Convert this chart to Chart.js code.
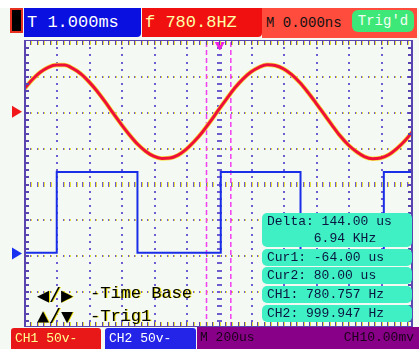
<!DOCTYPE html>
<html>
<head>
<meta charset="utf-8">
<script src="https://cdn.jsdelivr.net/npm/chart.js@4.4.1/dist/chart.umd.min.js"></script>
<style>
  body { margin: 0; background: #f5f9f4; }
  #wrap { position: relative; width: 419px; height: 349px; overflow: hidden; font-family: "Liberation Mono", "DejaVu Sans Mono", monospace; }
  #wrap canvas { position: absolute; left: 0; top: 0; }
  .box { position: absolute; box-sizing: border-box; white-space: pre; }
  .info { left: 262px; width: 150px; background: #3ef0c4; border-radius: 5px; color: #0a1640; font-size: 13px; line-height: 17px; padding-left: 5px; }
  .hint { color: #000; font-size: 17px; text-shadow: 1px 0 0 #e8e000; }
</style>
</head>
<body>
<div id="wrap">
  <canvas id="scope" width="419" height="349"></canvas>

  <!-- header -->
  <div class="box" style="left:0;top:0;width:419px;height:8px;background:#fff"></div>
  <div class="box" style="left:10px;top:8px;width:13px;height:25px;background:#000;border:2px solid #e83020"></div>
  <div class="box" style="left:24px;top:8px;width:117px;height:29px;background:#0a10e0;color:#fff;font-size:17px;line-height:29px;padding-left:3px;border-radius:0 0 4px 0">T 1.000ms</div>
  <div class="box" style="left:142px;top:8px;width:120px;height:29px;background:#f01010;color:#ffffa8;font-size:17px;line-height:29px;padding-left:3px;border-radius:0 0 4px 0">f 780.8HZ</div>
  <div class="box" style="left:262px;top:8px;width:155px;height:30px;background:#ff4c3c;color:#111;font-size:14px;line-height:30px;padding-left:4px">M 0.000ns</div>
  <div class="box" style="left:352px;top:10px;width:62px;height:22px;background:#3ee878;color:#f4fff4;font-size:14px;line-height:22px;text-align:center;border-radius:6px">Trig'd</div>

  <!-- cursor readout -->
  <div class="box info" style="top:213px;height:34px">Delta: 144.00 us
      6.94 KHz</div>
  <div class="box info" style="top:249px;height:17px">Cur1: -64.00 us</div>
  <div class="box info" style="top:267px;height:17px">Cur2: 80.00 us</div>
  <div class="box info" style="top:286px;height:17px">CH1: 780.757 Hz</div>
  <div class="box info" style="top:305px;height:17px">CH2: 999.947 Hz</div>

  <!-- key hints -->
  <div class="box hint" style="left:37px;top:283px;font-size:20px">◀/▶</div>
  <div class="box hint" style="left:90px;top:284px">-Time Base</div>
  <div class="box hint" style="left:37px;top:306px;font-size:20px">▲/▼</div>
  <div class="box hint" style="left:90px;top:307px">-Trig1</div>

  <!-- footer -->
  <div class="box" style="left:11px;top:328px;width:90px;height:21px;background:#e81818;color:#ffff90;font-size:13px;line-height:21px;padding-left:4px;border-radius:3px 3px 0 0">CH1 50v-</div>
  <div class="box" style="left:105px;top:328px;width:91px;height:21px;background:#2424e8;color:#fff;font-size:13px;line-height:21px;padding-left:4px;border-radius:3px 3px 0 0">CH2 50v-</div>
  <div class="box" style="left:197px;top:327px;width:222px;height:22px;background:#880088;color:#1a001a;font-size:13px;line-height:22px;padding-left:3px">M 200us</div>
  <div class="box" style="left:330px;top:327px;width:84px;height:22px;color:#1a001a;font-size:13px;line-height:22px;text-align:right">CH10.00mv</div>
</div>

<script>
// time axis in screen divisions (12 across), volts in divisions (8 high)
const sampleDiv = [0, 0.25, 0.5, 0.75, 1, 1.25, 1.5, 1.75, 2, 2.25, 2.5, 2.75, 3, 3.25, 3.5, 3.75,
  4, 4.25, 4.5, 4.75, 5, 5.25, 5.5, 5.75, 6, 6.25, 6.5, 6.75, 7, 7.25, 7.5, 7.75,
  8, 8.25, 8.5, 8.75, 9, 9.25, 9.5, 9.75, 10, 10.25, 10.5, 10.75, 11, 11.25, 11.5, 11.75, 12];
const ch1Values = [6.63, 6.89, 7.10, 7.24, 7.30, 7.30, 7.21, 7.06, 6.84, 6.58, 6.28, 5.96, 5.65, 5.36, 5.10, 4.90,
  4.76, 4.70, 4.71, 4.79, 4.95, 5.17, 5.43, 5.73, 6.05, 6.36, 6.66, 6.91, 7.11, 7.24, 7.31, 7.29,
  7.20, 7.04, 6.82, 6.55, 6.25, 5.94, 5.63, 5.33, 5.08, 4.89, 4.75, 4.69, 4.71, 4.80, 4.97, 5.19, 5.46];

const ch2Times = [0, 1.01, 1.01, 3.5, 3.5, 6.07, 6.07, 8.53, 8.53, 11.1, 11.1, 12];
const ch2Values = [2.07, 2.07, 4.32, 4.32, 2.07, 2.07, 4.32, 4.32, 2.07, 2.07, 4.32, 4.32];

const cursorTimes = [5.63, 6.38];
const triggerTime = 6.04;
const groundLevels = [6.0, 2.05]; // CH1, CH2
const groundColors = ['#f01818', '#1830f0'];

const bgColor = '#f5f9f4';
const gridPurple = '#6e5cd0';
const gridYellow = '#e6dc3c';

const scopeGrid = {
  id: 'scopeGrid',
  beforeDatasetsDraw(chart) {
    const { ctx, chartArea: { left, right, top, bottom }, scales: { x, y } } = chart;
    ctx.save();
    ctx.fillStyle = bgColor;
    ctx.fillRect(left, top, right - left, bottom - top);

    // dotted verticals, centre one drawn as short dashes
    for (let d = 1; d < 12; d++) {
      const px = Math.round(x.getPixelForValue(d));
      for (let m = 1; m < 40; m++) {
        const py = Math.round(y.getPixelForValue(m / 5));
        ctx.fillStyle = gridPurple;
        if (d === 6) ctx.fillRect(px - 2, py, 5, 2);
        else ctx.fillRect(px, py, 2, 2);
      }
    }
    // dotted horizontals, centre one drawn as short dashes
    for (let v = 1; v < 8; v++) {
      const py = Math.round(y.getPixelForValue(v));
      const h = v === 4 ? 5 : 2;
      const off = v === 4 ? 2 : 0;
      for (let m = 1; m < 60; m++) {
        const px = Math.round(x.getPixelForValue(m / 5));
        ctx.fillStyle = gridPurple;
        ctx.fillRect(px, py - off, 1, h);
        ctx.fillStyle = gridYellow;
        ctx.fillRect(px + 1, py - off, 1, h);
      }
    }
    ctx.restore();
  },
  afterDatasetsDraw(chart) {
    const { ctx, chartArea: { left, right, top, bottom }, scales: { x, y } } = chart;
    ctx.save();
    ctx.fillStyle = '#5a44b0';
    ctx.fillRect(left, top, 2, bottom - top);
    ctx.fillRect(right - 2, top, 2, bottom - top);
    ctx.fillRect(left, top, right - left, 1);
    ctx.fillRect(left, bottom - 1, right - left, 1);
    for (let m = 1; m < 60; m++) {
      const px = Math.round(x.getPixelForValue(m / 5));
      ctx.fillStyle = '#5a44b0';
      ctx.fillRect(px, top, 1, 5);
      ctx.fillRect(px, bottom - 5, 1, 5);
      ctx.fillStyle = gridYellow;
      ctx.fillRect(px + 1, top + 1, 1, 4);
      ctx.fillRect(px + 1, bottom - 5, 1, 4);
    }
    for (let m = 1; m < 40; m++) {
      const py = Math.round(y.getPixelForValue(m / 5));
      ctx.fillStyle = '#5a44b0';
      ctx.fillRect(left, py, 5, 2);
      ctx.fillRect(right - 5, py, 5, 2);
    }

    // channel ground markers left of the screen
    groundLevels.forEach((lvl, i) => {
      const py = y.getPixelForValue(lvl);
      ctx.fillStyle = groundColors[i];
      ctx.beginPath();
      ctx.moveTo(left - 12, py - 6);
      ctx.lineTo(left - 2, py);
      ctx.lineTo(left - 12, py + 6);
      ctx.closePath();
      ctx.fill();
    });
    ctx.restore();
  }
};

const ch1Points = sampleDiv.map((t, i) => ({ x: t, y: ch1Values[i] }));
const ch2Points = ch2Times.map((t, i) => ({ x: t, y: ch2Values[i] }));

const ctx = document.getElementById('scope').getContext('2d');
new Chart(ctx, {
  type: 'line',
  data: {
    datasets: [
      {
        label: 'Trigger',
        data: [{ x: triggerTime, y: 7.86 }],
        showLine: false,
        pointStyle: 'triangle',
        rotation: 180,
        pointRadius: 5,
        backgroundColor: '#f020e0',
        borderColor: '#f020e0',
        clip: false,
      },
      {
        label: 'CH1',
        data: ch1Points,
        borderColor: '#ee1038',
        borderWidth: 3,
        pointRadius: 0,
        tension: 0.4,
        cubicInterpolationMode: 'monotone',
      },
      {
        label: 'CH1 halo',
        data: ch1Points,
        borderColor: '#f6e040',
        borderWidth: 4.5,
        pointRadius: 0,
        tension: 0.4,
        cubicInterpolationMode: 'monotone',
      },
      {
        label: 'CH2',
        data: ch2Points,
        borderColor: '#1a2ee8',
        borderWidth: 2,
        pointRadius: 0,
        tension: 0,
      },
      ...cursorTimes.map((t) => ({
        label: 'Cursor',
        data: [{ x: t, y: 0 }, { x: t, y: 8 }],
        borderColor: '#f040f0',
        borderWidth: 1.5,
        borderDash: [5, 3],
        pointRadius: 0,
      })),
    ],
  },
  options: {
    responsive: false,
    animation: false,
    layout: { padding: { left: 24, top: 40, right: 4, bottom: 22 } },
    plugins: { legend: { display: false }, tooltip: { enabled: false } },
    scales: {
      x: { type: 'linear', min: 0, max: 12, display: false },
      y: { type: 'linear', min: 0, max: 8, display: false },
    },
  },
  plugins: [scopeGrid],
});
</script>
</body>
</html>
